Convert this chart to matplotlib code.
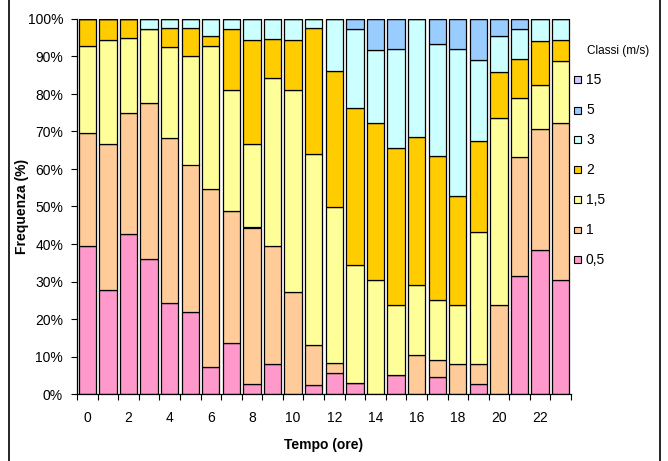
import numpy as np
import matplotlib
matplotlib.use('Agg')
import matplotlib.pyplot as plt
from matplotlib.patches import Rectangle

plt.rcParams['font.family'] = ['Liberation Sans', 'DejaVu Sans']

hours = np.arange(24)
classes = ['0,5', '1', '1,5', '2', '3', '5', '15']
colors = ['#FF99CC', '#FFCC99', '#FFFF99', '#FFCC00', '#CCFFFF', '#99CCFF', '#CCCCFF']

# cumulative tops (%), per class
top_05 = [39.5, 27.8, 42.6, 36.1, 24.4, 21.9, 7.1, 13.6, 2.8, 8.1, 0.0, 2.4,
          5.6, 2.9, 0.0, 5.2, 0.0, 4.6, 0.0, 2.8, 0.0, 31.4, 38.3, 30.5]
top_1 = [69.7, 66.7, 75.0, 77.7, 68.2, 61.2, 54.6, 48.8, 44.4, 39.5, 27.2, 13.0,
         8.4, 2.9, 0.0, 5.2, 10.5, 9.0, 8.1, 8.1, 23.8, 63.2, 70.7, 72.2]
top_15 = [92.9, 94.3, 95.0, 97.2, 92.5, 90.1, 92.9, 81.1, 66.7, 84.2, 81.1, 64.1,
          49.9, 34.3, 30.5, 23.8, 29.0, 25.0, 23.8, 43.2, 73.7, 79.0, 82.3, 88.9]
top_2 = [100.0, 100.0, 100.0, 97.2, 97.5, 97.5, 95.4, 97.2, 94.3, 94.7, 94.3, 97.5,
         86.1, 76.2, 72.2, 65.7, 68.6, 63.6, 52.8, 67.6, 85.9, 89.4, 94.1, 94.5]
top_3 = [100.0, 100.0, 100.0, 100.0, 100.0, 100.0, 100.0, 100.0, 100.0, 100.0, 100.0, 100.0,
         100.0, 97.2, 91.7, 91.9, 100.0, 93.3, 91.9, 89.1, 95.4, 97.2, 100.0, 100.0]
top_5 = [100.0] * 24
top_15ms = [100.0] * 24

tops = np.array([top_05, top_1, top_15, top_2, top_3, top_5, top_15ms])
vals = np.diff(np.vstack([np.zeros(24), tops]), axis=0)

W, H = 668, 461
fig = plt.figure(figsize=(W / 100, H / 100), dpi=100)
ax = fig.add_axes([77 / W, 1 - 394 / H, (571 - 77) / W, (394 - 19) / H])

bottom = np.zeros(24)
for i, cls in enumerate(classes):
    ax.bar(hours, vals[i], bottom=bottom, width=0.84, color=colors[i],
           edgecolor='black', linewidth=0.9, label=cls)
    bottom += vals[i]

ax.set_xlim(-0.5, 23.5)
ax.set_ylim(0, 100)
ax.set_yticks(np.arange(0, 101, 10))
ax.set_yticklabels([f'{v}%' for v in range(0, 101, 10)])
ax.set_xticks(np.arange(0, 24, 2))
ax.set_xticks(np.arange(-0.5, 24, 1), minor=True)
ax.tick_params(axis='x', which='major', length=0, labelsize=10, pad=12)
ax.tick_params(axis='x', which='minor', length=4, direction='out', width=0.8)
ax.tick_params(axis='y', length=4, direction='out', labelsize=10, width=0.8, pad=6)
for s in ['top', 'right']:
    ax.spines[s].set_visible(False)
ax.spines['left'].set_linewidth(0.9)
ax.spines['bottom'].set_linewidth(0.9)

ax.set_ylabel('Frequenza (%)', fontsize=10, fontweight='bold')
ax.set_xlabel('Tempo (ore)', fontsize=10, fontweight='bold')
ax.yaxis.set_label_coords((29 - 77) / 494, 0.5)
ax.xaxis.set_label_coords(0.5, -(438 - 394) / 375)

# legend drawn by hand, top entry is the highest class
fig.text(587 / W, 1 - 51 / H, 'Classi (m/s)', fontsize=8.5, ha='left', va='center')
for k, i in enumerate(range(len(classes) - 1, -1, -1)):
    yc = 80 + 30 * k
    fig.add_artist(Rectangle((573.5 / W, 1 - (yc + 3.5) / H), 7 / W, 7 / H,
                             transform=fig.transFigure, facecolor=colors[i],
                             edgecolor='black', linewidth=0.8))
    fig.text(586 / W, 1 - yc / H, classes[i], fontsize=10, ha='left', va='center')

fig.add_artist(Rectangle((9 / W, -0.01), (660 - 9) / W, 1.02, transform=fig.transFigure,
                         fill=False, edgecolor='black', linewidth=1.2))

fig.savefig('out.png', dpi=100)
